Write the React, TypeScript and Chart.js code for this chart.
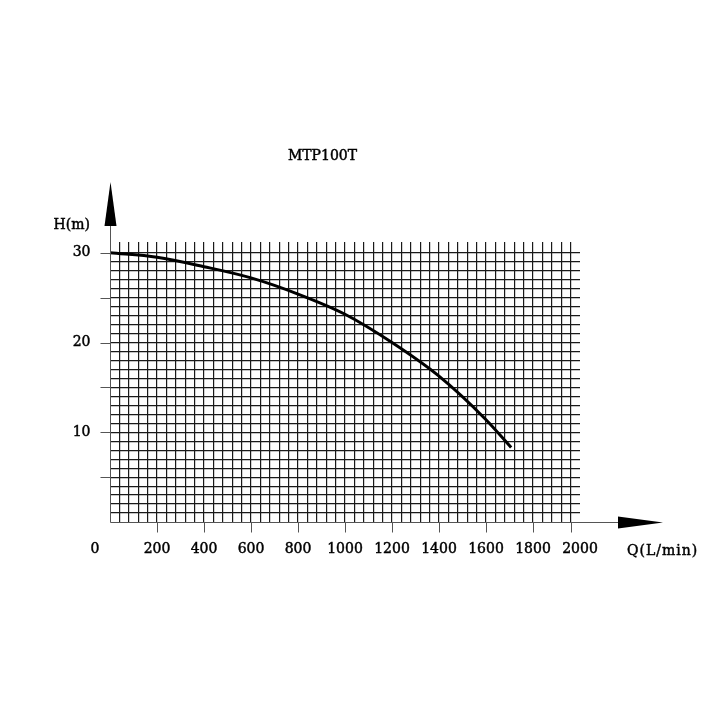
import React, { useEffect, useRef } from "react";
import { Chart, registerables } from "chart.js";

Chart.register(...registerables);

// ---- data ----
const TITLE = "MTP100T";
const X_TITLE = "Q(L/min)";
const Y_TITLE = "H(m)";
const flowQ = [0, 200, 400, 600, 800, 1000, 1200, 1400, 1600, 1707];
const headH = [30, 29.5, 28.45, 27.2, 25.4, 23.15, 20.0, 16.25, 11.4, 8.3];
const xLabelValues = [0, 200, 400, 600, 800, 1000, 1200, 1400, 1600, 1800, 2000];
const xTickMarkValues = [200, 400, 600, 800, 1000, 1200, 1400, 1600, 1800, 1960];
const yLabelValues = [10, 20, 30];
const yTickMarkValues = [5, 10, 15, 20, 25, 30];
const X_MIN = 0;
const X_MAX = 2000;
const X_STEP = 40;
const X_GRID_LAST = 1960;
const Y_MIN = 0;
const Y_MAX = 31.2;
const Y_STEP = 1;
const Y_GRID_LAST = 30;

const FONT = '14px "DejaVu Serif"';
const GRID_COLOR = "#1a1a1a";
const AXIS_COLOR = "#555";
const TEXT_COLOR = "#000";

function heavyText(ctx: CanvasRenderingContext2D, text: string, x: number, y: number) {
  ctx.fillText(text, x, y);
  ctx.strokeText(text, x, y);
}

const decorPlugin = {
  id: "decor",
  afterDraw(chart: any) {
    const { ctx, chartArea, scales } = chart;
    const xs = scales.x;
    const ys = scales.y;
    const left = Math.round(chartArea.left) + 0.5;
    const bottom = Math.round(ys.getPixelForValue(0)) + 0.5;
    const right = xs.getPixelForValue(X_MAX);
    const top = chartArea.top;
    ctx.save();
    // axes
    ctx.strokeStyle = AXIS_COLOR;
    ctx.lineWidth = 1;
    ctx.beginPath();
    ctx.moveTo(left, bottom);
    ctx.lineTo(left, top - 16);
    ctx.moveTo(left, bottom);
    ctx.lineTo(right + 38, bottom);
    for (const v of xTickMarkValues) {
      const x = Math.round(xs.getPixelForValue(v)) + 0.5;
      ctx.moveTo(x, bottom);
      ctx.lineTo(x, bottom + 10);
    }
    for (const v of yTickMarkValues) {
      const y = Math.round(ys.getPixelForValue(v)) + 0.5;
      ctx.moveTo(left - 10, y);
      ctx.lineTo(left, y);
    }
    ctx.stroke();
    // arrows
    ctx.fillStyle = "#000";
    ctx.beginPath();
    ctx.moveTo(left, top - 60);
    ctx.lineTo(left + 6, top - 16);
    ctx.lineTo(left - 6, top - 16);
    ctx.closePath();
    ctx.fill();
    ctx.beginPath();
    ctx.moveTo(right + 83, bottom);
    ctx.lineTo(right + 38, bottom - 6);
    ctx.lineTo(right + 38, bottom + 6);
    ctx.closePath();
    ctx.fill();
    // labels
    ctx.fillStyle = TEXT_COLOR;
    ctx.strokeStyle = TEXT_COLOR;
    ctx.lineWidth = 0.45;
    ctx.font = FONT;
    ctx.textBaseline = "middle";
    ctx.textAlign = "center";
    for (const v of xLabelValues) {
      let x = xs.getPixelForValue(v);
      if (v === 0) x -= 15;
      heavyText(ctx, String(v), x, bottom + 27);
    }
    ctx.textAlign = "right";
    for (const v of yLabelValues) {
      heavyText(ctx, String(v), left - 20, ys.getPixelForValue(v));
    }
    ctx.textAlign = "left";
    heavyText(ctx, Y_TITLE, left - 57, ys.getPixelForValue(30) - 27);
    (ctx as any).letterSpacing = "1px";
    heavyText(ctx, X_TITLE, right + 47, bottom + 29);
    (ctx as any).letterSpacing = "0px";
    ctx.textAlign = "center";
    heavyText(ctx, TITLE, left + 212, top - 86);
    ctx.restore();
  },
};

export default function App() {
  const ref = useRef<HTMLCanvasElement | null>(null);
  useEffect(() => {
    if (!ref.current) return;
    const chart = new Chart(ref.current, {
      type: "line",
      data: {
        datasets: [
          {
            data: flowQ.map((q, i) => ({ x: q, y: headH[i] })),
            borderColor: "#000",
            borderWidth: 3,
            pointRadius: 0,
            cubicInterpolationMode: "monotone",
            fill: false,
            clip: false as any,
          },
        ],
      },
      options: {
        animation: false,
        responsive: false,
        maintainAspectRatio: false,
        layout: { padding: { left: 110, right: 138, top: 242, bottom: 196 } },
        plugins: {
          legend: { display: false },
          title: { display: false },
          tooltip: { enabled: false },
        },
        scales: {
          x: {
            type: "linear",
            min: X_MIN,
            max: X_MAX,
            ticks: { display: false, stepSize: X_STEP, autoSkip: false, maxTicksLimit: 200 },
            grid: {
              drawTicks: false,
              lineWidth: 1.2,
              color: (c: any) =>
                c.tick && c.tick.value > 0 && c.tick.value <= X_GRID_LAST + 0.01 ? GRID_COLOR : "rgba(0,0,0,0)",
            },
            border: { display: false },
          },
          y: {
            type: "linear",
            min: Y_MIN,
            max: Y_MAX,
            ticks: { display: false, stepSize: Y_STEP, autoSkip: false, maxTicksLimit: 200 },
            grid: {
              drawTicks: false,
              lineWidth: 1.2,
              color: (c: any) =>
                c.tick && c.tick.value > 0 && c.tick.value <= Y_GRID_LAST + 0.01 ? GRID_COLOR : "rgba(0,0,0,0)",
            },
            border: { display: false },
          },
        },
      },
      plugins: [decorPlugin],
    });
    return () => chart.destroy();
  }, []);
  return (
    <div style={{ position: "fixed", left: 0, top: 0, width: 718, height: 718, background: "#fff" }}>
      <canvas ref={ref} width={718} height={718} style={{ display: "block" }} />
    </div>
  );
}
